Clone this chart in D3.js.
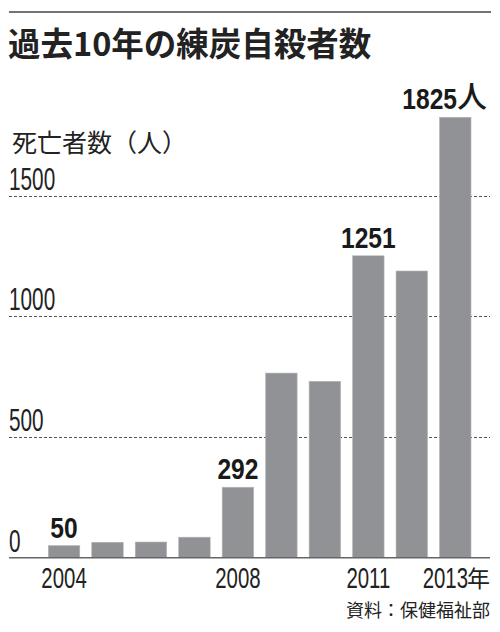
<!DOCTYPE html>
<html>
<head>
<meta charset="utf-8">
<script src="https://cdn.jsdelivr.net/npm/d3@7"></script>
<style>
  body { margin: 0; background: #fff; }
</style>
</head>
<body>
<div id="chart"></div>
<script>
// data
var years = [2004, 2005, 2006, 2007, 2008, 2009, 2010, 2011, 2012, 2013];
var deaths = [50, 64, 65, 85, 292, 765, 731, 1251, 1188, 1825];
var labelYears = [2004, 2008, 2011];
var tickValues = [0, 500, 1000, 1500];
var axisYears = [2004, 2008, 2011];
var lastYearLabel = "2013年";
var title = "過去10年の練炭自殺者数";
var yTitle = "死亡者数（人）";
var source = "資料：保健福祉部";

var W = 500, H = 632;
var latin = "'Liberation Sans', Arial, sans-serif";
var cjk = "'Noto Sans CJK JP', 'Noto Sans CJK KR', sans-serif";
var barColor = "#909295";

var svg = d3.select("#chart").append("svg").attr("width", W).attr("height", H);

var x = d3.scaleBand().domain(years).range([42.3, 477]).paddingInner(0.276).paddingOuter(0.138);
var y = d3.scaleLinear().domain([0, 1500]).range([557.7, 195.7]);

// top rule + title
svg.append("line").attr("x1", 9).attr("x2", 491).attr("y1", 12).attr("y2", 12)
  .attr("stroke", "#444").attr("stroke-width", 1.5);

svg.append("text").attr("x", 8).attr("y", 56).text(title)
  .style("font-family", cjk).style("font-weight", 700).style("font-size", "32.5px").style("fill", "#222");

svg.append("text").attr("x", 12).attr("y", 152).text(yTitle)
  .style("font-family", cjk).style("font-size", "25px").style("fill", "#222");

// dashed gridlines with labels
var grid = svg.append("g");
grid.selectAll("line").data(tickValues.filter(function(d) { return d > 0; })).enter().append("line")
  .attr("x1", 9).attr("x2", 490)
  .attr("y1", function(d) { return Math.round(y(d)) + 0.5; })
  .attr("y2", function(d) { return Math.round(y(d)) + 0.5; })
  .attr("stroke", "#555").attr("stroke-width", 1).attr("stroke-dasharray", "3,2");

grid.selectAll("text").data(tickValues).enter().append("text")
  .attr("transform", function(d) { return "translate(9," + (y(d) - 6) + ") scale(0.67,1)"; })
  .text(function(d) { return d; })
  .style("font-family", latin).style("font-size", "31px").style("fill", "#222");

// bars
svg.append("g").selectAll("rect").data(years).enter().append("rect")
  .attr("x", function(d) { return x(d); })
  .attr("width", x.bandwidth())
  .attr("y", function(d, i) { return y(deaths[i]); })
  .attr("height", function(d, i) { return y(0) - y(deaths[i]); })
  .attr("fill", barColor)
  .attr("stroke", "#b4b5b7").attr("stroke-width", 0.6);

// baseline
svg.append("line").attr("x1", 9).attr("x2", 490).attr("y1", y(0)).attr("y2", y(0))
  .attr("stroke", "#666").attr("stroke-width", 1.6);

// value labels
svg.append("g").selectAll("text").data(labelYears).enter().append("text")
  .attr("transform", function(d) {
    var v = deaths[years.indexOf(d)];
    return "translate(" + (x(d) + x.bandwidth() / 2) + "," + (y(v) - 8) + ") scale(0.82,1)";
  })
  .attr("text-anchor", "middle")
  .text(function(d) { return deaths[years.indexOf(d)]; })
  .style("font-family", latin).style("font-weight", 700).style("font-size", "30px").style("fill", "#1a1a1a");

var lastVal = deaths[deaths.length - 1];
svg.append("text")
  .attr("transform", "translate(457," + (y(lastVal) - 8.5) + ") scale(0.82,1)")
  .attr("text-anchor", "end").text(lastVal)
  .style("font-family", latin).style("font-weight", 700).style("font-size", "30px").style("fill", "#1a1a1a");
svg.append("text").attr("x", 457).attr("y", y(lastVal) - 10)
  .text("人")
  .style("font-family", cjk).style("font-weight", 500).style("font-size", "30px").style("fill", "#1a1a1a");

// x labels
svg.append("g").selectAll("text").data(axisYears).enter().append("text")
  .attr("transform", function(d) { return "translate(" + (x(d) + x.bandwidth() / 2) + ",588) scale(0.68,1)"; })
  .attr("text-anchor", "middle").text(function(d) { return d; })
  .style("font-family", latin).style("font-size", "30px").style("fill", "#222");

svg.append("text").attr("transform", "translate(468,588) scale(0.68,1)")
  .attr("text-anchor", "end").text(lastYearLabel.slice(0, 4))
  .style("font-family", latin).style("font-size", "30px").style("fill", "#222");
svg.append("text").attr("x", 467).attr("y", 587).text(lastYearLabel.slice(4))
  .style("font-family", cjk).style("font-size", "23px").style("fill", "#222");

// source
svg.append("text").attr("x", 490).attr("y", 617).attr("text-anchor", "end").text(source)
  .style("font-family", cjk).style("font-size", "18px").style("fill", "#222");
</script>
</body>
</html>
